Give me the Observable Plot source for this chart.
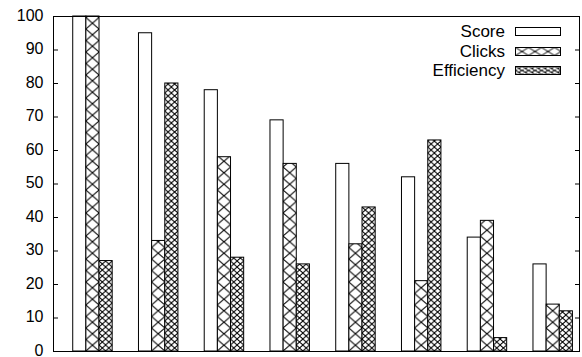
<!DOCTYPE html>
<html>
<head>
<meta charset="utf-8">
<script src="https://cdn.jsdelivr.net/npm/d3@7"></script>
<script src="https://cdn.jsdelivr.net/npm/@observablehq/plot@0.6"></script>
<style>
  body { margin: 0; background: #fff; font-family: "Liberation Sans", Arial, sans-serif; }
  #wrap { position: relative; width: 582px; height: 357px; }
  #legend { position: absolute; top: 22px; right: 21px; font-size: 17px; color: #000; }
  #legend .row { display: flex; align-items: center; justify-content: flex-end; height: 19.5px; }
  #legend .row span { margin-right: 10px; line-height: 1; }
  #legend svg { display: block; }
</style>
</head>
<body>
<div id="wrap"></div>
<script>
// Eight clusters of three bars each
const groups = [0, 1, 2, 3, 4, 5, 6, 7];
const seriesNames = ["Score", "Clicks", "Efficiency"];
const score = [100, 95, 78, 69, 56, 52, 34, 26];
const clicks = [100, 33, 58, 56, 32, 21, 39, 14];
const efficiency = [27, 80, 28, 26, 43, 63, 4, 12];
const yTicks = [0, 10, 20, 30, 40, 50, 60, 70, 80, 90, 100];

// Clustered layout: each bar is 1/5 of a cluster unit (3 bars + gap of 2)
const barWidth = 0.2;
const seriesValues = [score, clicks, efficiency];
const fills = ["#fff", "url(#hatch-clicks)", "url(#hatch-efficiency)"];

function rowsFor(j) {
  return groups.map(g => {
    const center = g + (j - 1) * barWidth;
    return { group: g, series: seriesNames[j], value: seriesValues[j][g],
             x1: center - barWidth / 2, x2: center + barWidth / 2 };
  });
}

const plot = Plot.plot({
  width: 582,
  height: 357,
  marginLeft: 53,
  marginRight: 3,
  marginTop: 16,
  marginBottom: 6,
  style: { fontFamily: "'Liberation Sans', Arial, sans-serif", fontSize: "16px", color: "#000", background: "#fff" },
  x: { domain: [-0.6, 7.4], axis: null },
  y: { domain: [0, 100] },
  marks: [
    ...seriesNames.map((s, j) =>
      Plot.rectY(rowsFor(j), { x1: "x1", x2: "x2", y1: 0, y2: "value", fill: fills[j], stroke: "#000", strokeWidth: 1 })
    ),
    Plot.axisY(yTicks, { anchor: "left", tickSize: 0, tickPadding: 10, dy: -1, label: null, fill: "#000" }),
    Plot.axisY(yTicks, { anchor: "left", tickSize: -5, text: null, label: null, stroke: "#000" }),
    Plot.axisY(yTicks, { anchor: "right", tickSize: -5, text: null, label: null, stroke: "#000" }),
    Plot.frame({ stroke: "#000" })
  ]
});

// Hatch patterns, aligned with the bar grid
const xs = plot.scale("x"), ys = plot.scale("y");
const cell = xs.apply(barWidth) - xs.apply(0);
const ox = xs.apply(-1.5 * barWidth);
const oy = ys.apply(0);
const defs = d3.select(plot).insert("defs", ":first-child");

function hatch(sel, id, w, h, x, y) {
  const p = sel.append("pattern").attr("id", id).attr("patternUnits", "userSpaceOnUse")
    .attr("x", x).attr("y", y).attr("width", w).attr("height", h);
  p.append("rect").attr("width", w).attr("height", h).attr("fill", "#fff");
  p.append("path").attr("d", `M0,0L${w},${h}M${w},0L0,${h}`).attr("stroke", "#000").attr("stroke-width", 1).attr("fill", "none");
}
hatch(defs, "hatch-clicks", cell, 11.5, ox, oy);
hatch(defs, "hatch-efficiency", cell / 2, 6, ox, oy);

const wrap = document.getElementById("wrap");
wrap.appendChild(plot);

// Legend in the upper right of the frame
const legend = d3.select(wrap).append("div").attr("id", "legend");
seriesNames.forEach((name, j) => {
  const row = legend.append("div").attr("class", "row");
  row.append("span").text(name);
  const sw = row.append("svg").attr("width", 46).attr("height", 9);
  const d = sw.append("defs");
  hatch(d, `sw-clicks-${j}`, 13, 8, 0.5, 0.5);
  hatch(d, `sw-eff-${j}`, 6.5, 4, 0.5, 0.5);
  const f = j === 0 ? "#fff" : j === 1 ? `url(#sw-clicks-${j})` : `url(#sw-eff-${j})`;
  sw.append("rect").attr("x", 0.5).attr("y", 0.5).attr("width", 45).attr("height", 8)
    .attr("fill", f).attr("stroke", "#000").attr("stroke-width", 1);
});
</script>
</body>
</html>
